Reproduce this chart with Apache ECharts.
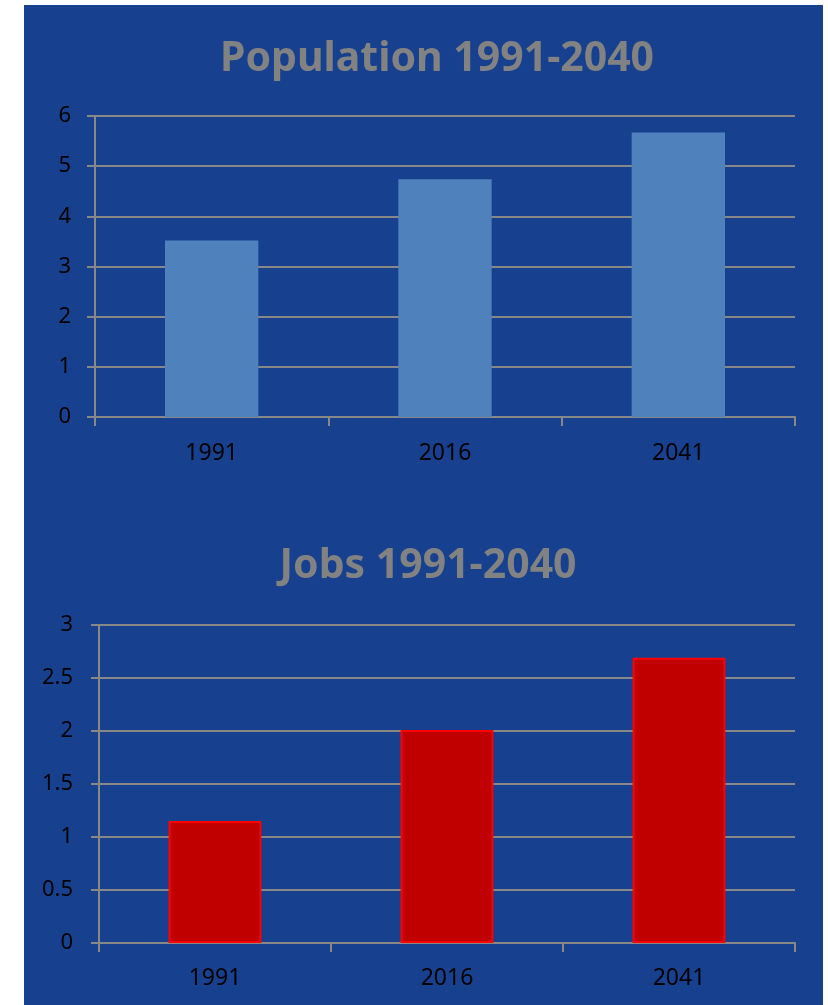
<!DOCTYPE html>
<html>
<head>
<meta charset="utf-8">
<title>Population and Jobs 1991-2040</title>
<script src="https://cdn.jsdelivr.net/npm/echarts@6/dist/echarts.min.js"></script>
<style>
  html, body { margin: 0; padding: 0; background: #fff; }
  #chart { position: absolute; left: 24px; top: 5px; width: 799px; height: 1000px; }
</style>
</head>
<body>
<div id="chart"></div>
<script>
// data
const years = ['1991', '2016', '2041']
const population = [3.52, 4.74, 5.67]
const jobs = [1.15, 2.01, 2.69]

const popTicks = { min: 0, max: 6, interval: 1 }
const jobTicks = { min: 0, max: 3, interval: 0.5 }

const bg = '#17418F'
const gridGrey = '#888888'
const font = 'Noto Sans'

function xAxis(gridIndex, margin) {
  return {
    type: 'category',
    gridIndex: gridIndex,
    data: years,
    axisLine: { lineStyle: { color: gridGrey, width: 2 } },
    axisTick: { show: true, length: 9, lineStyle: { color: gridGrey, width: 2 } },
    axisLabel: { color: '#000', fontSize: 23, fontFamily: font, margin: margin }
  }
}

function yAxis(gridIndex, ticks, margin) {
  return {
    type: 'value',
    gridIndex: gridIndex,
    min: ticks.min,
    max: ticks.max,
    interval: ticks.interval,
    axisLine: { show: true, lineStyle: { color: gridGrey, width: 2 } },
    axisTick: { show: true, length: 8, lineStyle: { color: gridGrey, width: 2 } },
    splitLine: { lineStyle: { color: gridGrey, width: 2 } },
    axisLabel: { color: '#000', fontSize: 22, fontFamily: font, margin: margin }
  }
}

const chart = echarts.init(document.getElementById('chart'))

chart.setOption({
  backgroundColor: bg,
  animation: false,
  title: [{
    text: 'Population 1991-2040',
    left: 408,
    top: 29,
    textAlign: 'center',
    textStyle: { color: '#828282', fontSize: 41, fontWeight: 'bold', fontFamily: font }
  }, {
    text: 'Jobs 1991-2040',
    left: 399,
    top: 536,
    textAlign: 'center',
    textStyle: { color: '#828282', fontSize: 41, fontWeight: 'bold', fontFamily: font }
  }],
  grid: [
    { left: 71, right: 28, top: 111, height: 301 },
    { left: 75, right: 28, top: 620, height: 318 }
  ],
  xAxis: [xAxis(0, 25), xAxis(1, 24)],
  yAxis: [yAxis(0, popTicks, 24), yAxis(1, jobTicks, 26)],
  series: [{
    name: 'Population',
    type: 'bar',
    xAxisIndex: 0,
    yAxisIndex: 0,
    barWidth: '40%',
    itemStyle: { color: '#4F81BD' },
    data: population
  }, {
    name: 'Jobs',
    type: 'bar',
    xAxisIndex: 1,
    yAxisIndex: 1,
    barWidth: '40%',
    itemStyle: { color: '#C00000', borderColor: '#FF0000', borderWidth: 2 },
    data: jobs
  }]
})
</script>
</body>
</html>
